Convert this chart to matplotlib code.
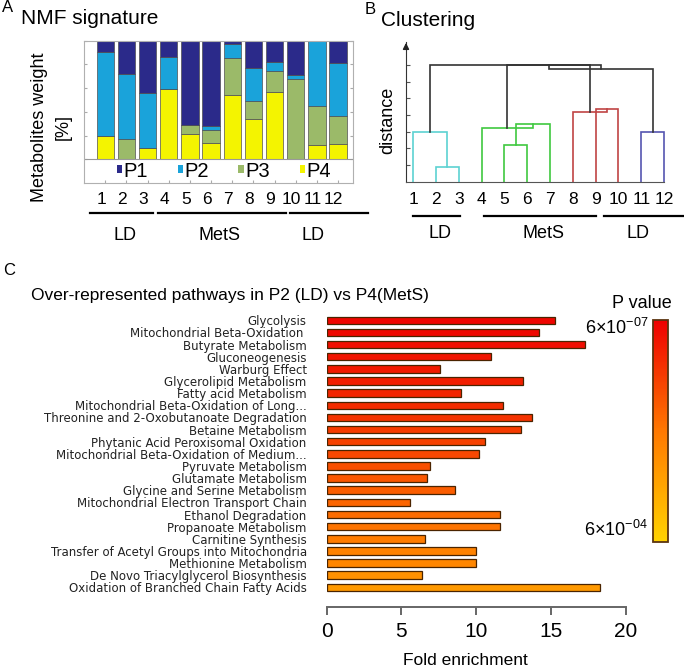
import numpy as np
import matplotlib
matplotlib.use('Agg')
import matplotlib.pyplot as plt
from matplotlib.patches import Patch
from matplotlib.colors import LinearSegmentedColormap, LogNorm
from matplotlib.cm import ScalarMappable
from matplotlib.ticker import NullLocator
from matplotlib.transforms import blended_transform_factory

plt.rcParams['font.family'] = ['Liberation Sans', 'DejaVu Sans']
plt.rcParams['mathtext.fontset'] = 'custom'
plt.rcParams['mathtext.rm'] = 'Liberation Sans'
plt.rcParams['mathtext.it'] = 'Liberation Sans:italic'

# ---------------- data ----------------
samples = ['1', '2', '3', '4', '5', '6', '7', '8', '9', '10', '11', '12']
# NMF signature weights (fractions, stacked bottom->top: P4, P3, P2, P1)
p4 = [0.200, 0.000, 0.098, 0.593, 0.210, 0.140, 0.539, 0.337, 0.567, 0.000, 0.117, 0.126]
p3 = [0.000, 0.174, 0.000, 0.000, 0.077, 0.110, 0.312, 0.152, 0.180, 0.674, 0.332, 0.239]
p2 = [0.705, 0.542, 0.458, 0.267, 0.000, 0.031, 0.124, 0.281, 0.076, 0.037, 0.551, 0.444]
p1 = [0.095, 0.284, 0.444, 0.140, 0.713, 0.719, 0.025, 0.230, 0.177, 0.289, 0.000, 0.191]
sig_names = ['P1', 'P2', 'P3', 'P4']
sig_colors = ['#2b2a8a', '#1aa3da', '#9bba69', '#f4f400']

group_names = ['LD', 'MetS', 'LD']

# Dendrogram merges: (node_a, node_b, distance, colour); leaves 0..11, new nodes 12..
merges = [
    (1, 2, 0.86, '#5cd2d2'),
    (0, 12, 3.00, '#5cd2d2'),
    (4, 5, 2.20, '#40c840'),
    (14, 6, 3.46, '#40c840'),
    (3, 15, 3.20, '#40c840'),
    (8, 9, 4.37, '#c04444'),
    (7, 17, 4.16, '#c04444'),
    (10, 11, 2.96, '#5555b0'),
    (16, 18, 6.99, '#333333'),
    (20, 19, 6.79, '#333333'),
    (13, 21, 7.00, '#333333'),
]

pathways = [
    'Glycolysis',
    'Mitochondrial Beta-Oxidation ',
    'Butyrate Metabolism',
    'Gluconeogenesis',
    'Warburg Effect',
    'Glycerolipid Metabolism',
    'Fatty acid Metabolism',
    'Mitochondrial Beta-Oxidation of Long...',
    'Threonine and 2-Oxobutanoate Degradation',
    'Betaine Metabolism',
    'Phytanic Acid Peroxisomal Oxidation',
    'Mitochondrial Beta-Oxidation of Medium...',
    'Pyruvate Metabolism',
    'Glutamate Metabolism',
    'Glycine and Serine Metabolism',
    'Mitochondrial Electron Transport Chain',
    'Ethanol Degradation',
    'Propanoate Metabolism',
    'Carnitine Synthesis',
    'Transfer of Acetyl Groups into Mitochondria',
    'Methionine Metabolism',
    'De Novo Triacylglycerol Biosynthesis',
    'Oxidation of Branched Chain Fatty Acids',
]
fold = [15.3, 14.2, 17.3, 11.0, 7.6, 13.1, 9.0, 11.8, 13.7, 13.0, 10.6, 10.2,
        6.9, 6.7, 8.6, 5.6, 11.6, 11.6, 6.6, 10.0, 10.0, 6.4, 18.3]
pvals = [6.9e-7, 7.9e-7, 9.1e-7, 1.1e-6, 1.3e-6, 1.5e-6, 1.8e-6, 2.2e-6, 2.6e-6,
         3.2e-6, 3.9e-6, 4.8e-6, 5.9e-6, 7.2e-6, 8.9e-6, 1.1e-5, 1.35e-5, 1.66e-5,
         2.2e-5, 2.7e-5, 3.3e-5, 4.7e-5, 6.6e-5]
p_min, p_max = 6e-7, 6e-4
fold_ticks = [0, 5, 10, 15, 20]

# ---------------- layout helpers ----------------
W, H = 684, 670
fig = plt.figure(figsize=(W / 100, H / 100), dpi=100)


def rect(l, t, r, b):
    return [l / W, 1 - b / H, (r - l) / W, (b - t) / H]


def fx(x):
    return x / W


def fy(y):
    return 1 - y / H


# ---------------- Panel A ----------------
axA = fig.add_axes(rect(84, 40.7, 352.7, 182.7))
xA = np.arange(len(samples))
bottom = np.zeros(len(samples))
for vals, col in zip([p4, p3, p2, p1], sig_colors[::-1]):
    axA.bar(xA, vals, 0.82, bottom=bottom, color=col, edgecolor='#505050', linewidth=0.5)
    bottom += np.array(vals)
axA.set_xlim(-1.007, 11.695)
axA.set_ylim(-0.197, 1.0)
axA.axhline(0, color='#999999', lw=0.8)
axA.set_yticks(np.arange(0, 1.01, 0.2))
axA.set_yticklabels([])
axA.set_xticks(xA)
axA.set_xticklabels([])
axA.tick_params(axis='y', direction='in', left=True, right=True, length=2.5, color='#aaaaaa')
axA.tick_params(axis='x', direction='in', length=2.5, color='#aaaaaa')
for s in axA.spines.values():
    s.set_color('#b0b0b0')
handles = [Patch(facecolor=c, edgecolor='none') for c in sig_colors]
leg = axA.legend(handles, sig_names, ncol=4, loc='center',
                 bbox_to_anchor=((224 - 84) / 268.7, (182.7 - 171) / 142),
                 frameon=False, fontsize=14.5, handlelength=0.26, handleheight=0.26,
                 handletextpad=0.1, columnspacing=1.45, borderpad=0, borderaxespad=0)

trA = blended_transform_factory(axA.transData, fig.transFigure)
for i, s in enumerate(samples):
    axA.text(i - 0.2, fy(200), s, transform=trA, ha='center', va='center',
             fontsize=12.5, clip_on=False)
groupA_lines = [(-0.72, 2.26), (2.49, 8.54), (8.73, 12.4)]
groupA_lab = [0.93, 5.42, 9.81]
for (a, b), lx, name in zip(groupA_lines, groupA_lab, group_names):
    axA.plot([a, b], [fy(213.5), fy(213.5)], transform=trA, color='black', lw=1.6,
             clip_on=False)
    axA.text(lx, fy(235), name, transform=trA, ha='center', va='center',
             fontsize=13, clip_on=False)

fig.text(fx(2), fy(8), 'A', ha='left', va='center', fontsize=12)
fig.text(fx(21), fy(19), 'NMF signature', ha='left', va='center', fontsize=15)
fig.text(fx(40), fy(127), 'Metabolites weight', rotation=90, ha='center', va='center',
         fontsize=13)
fig.text(fx(63), fy(127), '[%]', rotation=90, ha='center', va='center', fontsize=13)

# ---------------- Panel B ----------------
axB = fig.add_axes(rect(406, 41.7, 683, 181.7))
axB.set_xlim(-0.32, 11.83)
axB.set_ylim(0, 8.4)
for side in ['top', 'right']:
    axB.spines[side].set_visible(False)
axB.spines['left'].set_color('#333333')
axB.spines['bottom'].set_color('#555555')
axB.spines['bottom'].set_bounds(-0.32, 11)
axB.set_xticks([])
axB.set_yticks(np.arange(1, 8))
axB.set_yticklabels([])
axB.tick_params(axis='y', direction='in', length=3, color='#555555')
axB.annotate('', xy=(-0.32, 8.5), xytext=(-0.32, 7.8),
             arrowprops=dict(arrowstyle='-|>', color='#222222', lw=1, mutation_scale=9),
             annotation_clip=False)

pos = {i: float(i) for i in range(len(samples))}
hgt = {i: 0.0 for i in range(len(samples))}
node = len(samples)
for a, b, d, col in merges:
    xa, xb = pos[a], pos[b]
    axB.plot([xa, xa, xb, xb], [hgt[a], d, d, hgt[b]], color=col, lw=1.2,
             solid_joinstyle='miter')
    pos[node] = (xa + xb) / 2
    hgt[node] = d
    node += 1

trB = blended_transform_factory(axB.transData, fig.transFigure)
for i, s in enumerate(samples):
    axB.text(i, fy(200), s, transform=trB, ha='center', va='center', fontsize=12.5,
             clip_on=False)
groupB_lines = [(-0.03, 2.05), (3.1, 8.01), (8.36, 11.83)]
groupB_lab = [1.17, 5.73, 9.86]
for (a, b), lx, name in zip(groupB_lines, groupB_lab, group_names):
    axB.plot([a, b], [fy(215.7), fy(215.7)], transform=trB, color='black', lw=1.6,
             clip_on=False)
    axB.text(lx, fy(234), name, transform=trB, ha='center', va='center', fontsize=13,
             clip_on=False)
fig.text(fx(370), fy(9), 'B', ha='center', va='center', fontsize=12)
fig.text(fx(381), fy(21), 'Clustering', ha='left', va='center', fontsize=15)
fig.text(fx(388), fy(120), 'distance', rotation=90, ha='center', va='center', fontsize=13)

# ---------------- Panel C ----------------
cmap = LinearSegmentedColormap.from_list('pv', ['#ee0000', '#ff7800', '#ffd200'])
norm = LogNorm(vmin=p_min, vmax=p_max)

axC = fig.add_axes(rect(326.7, 310, 625.7, 607))
yC = np.arange(len(pathways))
axC.barh(yC, fold, height=0.62, color=cmap(norm(np.array(pvals))), edgecolor='#4a2400',
         linewidth=0.9)
axC.set_xlim(0, 20)
axC.set_ylim(len(pathways) - 1 + 1.62, -0.85)
for side in ['top', 'right', 'left']:
    axC.spines[side].set_visible(False)
axC.spines['bottom'].set_color('#666666')
axC.spines['bottom'].set_linewidth(1.4)
axC.spines['bottom'].set_bounds(0, 20)
axC.set_xticks(fold_ticks)
axC.set_xticklabels([str(t) for t in fold_ticks])
axC.tick_params(axis='x', direction='out', length=6, width=1.4, color='#666666',
                labelsize=15, pad=5)
axC.set_yticks(yC)
axC.set_yticklabels(pathways, fontsize=8.5, color='#222222', family='DejaVu Sans')
axC.tick_params(axis='y', length=0, pad=14.4)
axC.set_xlabel('Fold enrichment', fontsize=12.5)
axC.xaxis.set_label_coords((465 - 326.7) / 299, -(653 - 607) / 297)

cax = fig.add_axes(rect(653, 320, 668, 542))
cb = fig.colorbar(ScalarMappable(norm=norm, cmap=cmap), cax=cax)
cb.set_ticks([])
cax.yaxis.set_minor_locator(NullLocator())
cax.invert_yaxis()
cb.outline.set_edgecolor('#5a3410')
cb.outline.set_linewidth(1.3)

fig.text(fx(648), fy(328), r'$6{\times}10^{-07}$', ha='right', va='center', fontsize=13)
fig.text(fx(648), fy(530), r'$6{\times}10^{-04}$', ha='right', va='center', fontsize=13)
fig.text(fx(642), fy(304), 'P value', ha='center', va='center', fontsize=13)

fig.text(fx(3), fy(270), 'C', ha='left', va='center', fontsize=12)
fig.text(fx(31), fy(295), 'Over-represented pathways in P2 (LD) vs P4(MetS)',
         ha='left', va='center', fontsize=12.5)

fig.savefig('out.png', dpi=100)
